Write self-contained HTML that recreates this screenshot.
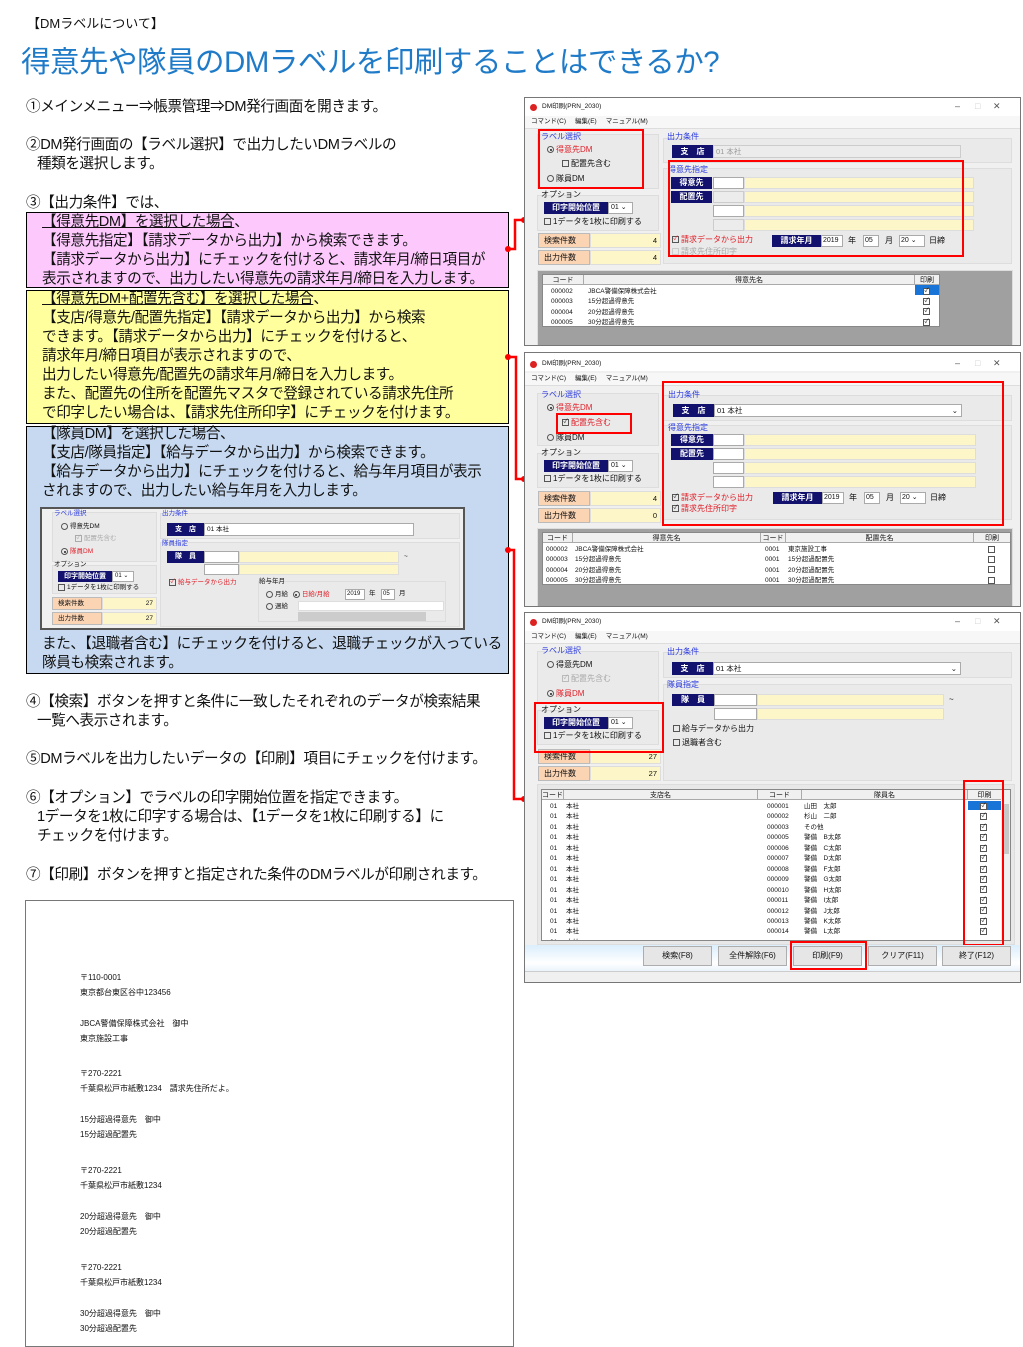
<!DOCTYPE html>
<html><head><meta charset="utf-8"><style>
*{margin:0;padding:0;box-sizing:border-box}
body{width:1023px;height:1347px;background:#fff;position:relative;overflow:hidden;font-family:"Liberation Sans","Noto Sans CJK JP",sans-serif;color:#111}
.a{position:absolute;white-space:nowrap}
.t{font-size:14.6px;line-height:19px;letter-spacing:-0.4px}
.win{position:absolute;background:#f0f0f0;border:1px solid #777;overflow:hidden;font-size:7.5px}
.win .a{line-height:1}
.tb{position:absolute;left:0;top:0;right:0;height:18px;background:#fff}
.mn{position:absolute;left:0;top:18px;right:0;height:13px;background:#f7f7f7;border-bottom:1px solid #ddd}
.grp{position:absolute;background:#eaeaea;border:1px solid #ddd}
.bl{color:#2a3adf}
.rd{color:#e0202a}
.gy{color:#aaa}
.nv{position:absolute;background:#12126e;color:#fff;text-align:center;font-weight:bold;font-size:8px}
.wi{position:absolute;background:#fff;border:1px solid #aaa}
.yi{position:absolute;background:#fcf6c8;border:1px solid #ddd}
.gi{position:absolute;background:#ececec;border:1px solid #ccc}
.pk{position:absolute;background:#fbd4b4;border:1px solid #bbb;padding-left:5px;font-size:8px}
.rb{position:absolute;border:2.5px solid #f00}
.tbl{position:absolute;background:#fff;border:1px solid #888;overflow:hidden}
.hd{position:absolute;background:#f0f0f0;border-bottom:1px solid #aaa;text-align:center;font-size:7px}
.cb{display:inline-block;width:7px;height:7px;border:1px solid #555;vertical-align:middle;margin-right:2px;font-size:6px;line-height:5px;text-align:center}
.rad{display:inline-block;width:7px;height:7px;border:1px solid #555;border-radius:50%;vertical-align:middle;margin-right:2px;position:relative}
.rad.on::after{content:"";position:absolute;left:1.5px;top:1.5px;width:2px;height:2px;background:#222;border-radius:50%}
.btn{position:absolute;background:#e6e6e6;border:1px solid #adadad;text-align:center;font-size:8px;line-height:18px}
</style></head><body>

<div class="a" style="left:27px;top:13px;font-size:13px">【DMラベルについて】</div>
<div class="a" style="left:21px;top:39px;font-size:29.5px;color:#1f7bc8;letter-spacing:-0.5px">得意先や隊員のDMラベルを印刷することはできるか?</div>

<div class="a t" style="left:26px;top:98px">①メインメニュー⇒帳票管理⇒DM発行画面を開きます。</div>
<div class="a t" style="left:26px;top:136px">②DM発行画面の【ラベル選択】で出力したいDMラベルの<br>&nbsp;&nbsp;&nbsp;種類を選択します。</div>
<div class="a t" style="left:26px;top:194px">③【出力条件】では、</div>

<div class="a" style="left:26px;top:212px;width:483px;height:76px;background:#fdc9fd;border:1px solid #000"></div>
<div class="a t" style="left:42px;top:213px"><u>【得意先DM】を選択した場合</u>、<br>【得意先指定】【請求データから出力】から検索できます。<br>【請求データから出力】にチェックを付けると、請求年月/締日項目が<br>表示されますので、出力したい得意先の請求年月/締日を入力します。</div>

<div class="a" style="left:26px;top:290px;width:483px;height:134px;background:#ffff9d;border:1px solid #000"></div>
<div class="a t" style="left:42px;top:290px"><u>【得意先DM+配置先含む】を選択した場合</u>、<br>【支店/得意先/配置先指定】【請求データから出力】から検索<br>できます。【請求データから出力】にチェックを付けると、<br>請求年月/締日項目が表示されますので、<br>出力したい得意先/配置先の請求年月/締日を入力します。<br>また、配置先の住所を配置先マスタで登録されている請求先住所<br>で印字したい場合は、【請求先住所印字】にチェックを付けます。</div>

<div class="a" style="left:26px;top:426px;width:483px;height:248px;background:#c6d9f0;border:1px solid #000"></div>
<div class="a t" style="left:42px;top:425px">【隊員DM】を選択した場合、<br>【支店/隊員指定】【給与データから出力】から検索できます。<br>【給与データから出力】にチェックを付けると、給与年月項目が表示<br>されますので、出力したい給与年月を入力します。</div>
<div class="a t" style="left:42px;top:635px">また、【退職者含む】にチェックを付けると、退職チェックが入っている<br>隊員も検索されます。</div>

<!-- inner screenshot -->
<div class="win" style="left:40px;top:507px;width:425px;height:123px;border:2px solid #555;font-size:6.5px">
 <div class="grp" style="left:10px;top:3px;width:105px;height:50px"></div>
 <div class="a bl" style="left:12px;top:2px">ラベル選択</div>
 <div class="a" style="left:19px;top:14px"><span class="rad"></span>得意先DM</div>
 <div class="a gy" style="left:33px;top:26px"><span class="cb" style="border-color:#aaa">✓</span>配置先含む</div>
 <div class="a rd" style="left:19px;top:39px"><span class="rad on"></span>隊員DM</div>
 <div class="grp" style="left:10px;top:56px;width:105px;height:29px"></div>
 <div class="a" style="left:12px;top:53px">オプション</div>
 <div class="nv" style="left:16px;top:62px;width:54px;height:11px;font-size:7px;line-height:11px">印字開始位置</div>
 <div class="wi" style="left:70px;top:62px;width:22px;height:11px;font-size:6px;padding-left:2px">01 ⌄</div>
 <div class="a" style="left:16px;top:75px"><span class="cb"></span>1データを1枚に印刷する</div>
 <div class="pk" style="left:10px;top:88px;width:50px;height:13px;font-size:6.5px;line-height:11px">検索件数</div>
 <div class="yi" style="left:60px;top:88px;width:55px;height:13px;text-align:right;padding-right:3px;font-size:6.5px;line-height:11px">27</div>
 <div class="pk" style="left:10px;top:103px;width:50px;height:13px;font-size:6.5px;line-height:11px">出力件数</div>
 <div class="yi" style="left:60px;top:103px;width:55px;height:13px;text-align:right;padding-right:3px;font-size:6.5px;line-height:11px">27</div>
 <div class="grp" style="left:118px;top:4px;width:300px;height:26px"></div>
 <div class="a bl" style="left:120px;top:2px">出力条件</div>
 <div class="nv" style="left:125px;top:14px;width:37px;height:13px;font-size:7px;line-height:13px">支　店</div>
 <div class="wi" style="left:162px;top:14px;width:210px;height:13px;font-size:6.5px;line-height:11px;padding-left:2px">01 本社</div>
 <div class="grp" style="left:118px;top:33px;width:300px;height:85px"></div>
 <div class="a bl" style="left:120px;top:32px">隊員指定</div>
 <div class="nv" style="left:125px;top:42px;width:37px;height:12px;font-size:7px;line-height:12px">隊　員</div>
 <div class="wi" style="left:162px;top:42px;width:35px;height:12px"></div>
 <div class="yi" style="left:197px;top:42px;width:160px;height:12px"></div>
 <div class="a" style="left:362px;top:45px">~</div>
 <div class="wi" style="left:162px;top:55px;width:35px;height:11px"></div>
 <div class="yi" style="left:197px;top:55px;width:160px;height:11px"></div>
 <div class="a rd" style="left:127px;top:70px"><span class="cb">✓</span>給与データから出力</div>
 <div class="a" style="left:216px;top:72px;width:188px;height:41px;border:1px solid #ddd"></div>
 <div class="a" style="left:217px;top:70px">給与年月</div>
 <div class="a" style="left:224px;top:82px"><span class="rad"></span>月給 <span class="rad on" style="margin-left:3px"></span><span class="rd">日給/月給</span></div>
 <div class="wi" style="left:303px;top:80px;width:20px;height:11px;font-size:6px;padding-left:1px;line-height:9px">2019</div>
 <div class="a" style="left:327px;top:82px">年</div>
 <div class="wi" style="left:339px;top:80px;width:14px;height:11px;font-size:6px;padding-left:1px;line-height:9px">05</div>
 <div class="a" style="left:357px;top:82px">月</div>
 <div class="a" style="left:224px;top:94px"><span class="rad"></span>週給</div>
 <div class="wi" style="left:256px;top:92px;width:146px;height:10px;border-color:#ddd"></div>
 <div class="gi" style="left:256px;top:103px;width:128px;height:9px;background:#ccc"></div>
</div>

<div class="a t" style="left:26px;top:693px">④【検索】ボタンを押すと条件に一致したそれぞれのデータが検索結果<br>&nbsp;&nbsp;&nbsp;一覧へ表示されます。</div>
<div class="a t" style="left:26px;top:750px">⑤DMラベルを出力したいデータの【印刷】項目にチェックを付けます。</div>
<div class="a t" style="left:26px;top:789px">⑥【オプション】でラベルの印字開始位置を指定できます。<br>&nbsp;&nbsp;&nbsp;1データを1枚に印字する場合は、【1データを1枚に印刷する】に<br>&nbsp;&nbsp;&nbsp;チェックを付けます。</div>
<div class="a t" style="left:26px;top:866px">⑦【印刷】ボタンを押すと指定された条件のDMラベルが印刷されます。</div>

<!-- label preview -->
<div class="a" style="left:25px;top:900px;width:489px;height:447px;border:1px solid #777;background:#fff"></div>
<div class="a" style="left:80px;top:970px;font-size:8px;line-height:15.3px">〒110-0001<br>東京都台東区谷中123456<br><br style="line-height:10px">JBCA警備保障株式会社　御中<br>東京施設工事</div>
<div class="a" style="left:80px;top:1066px;font-size:8px;line-height:15.3px">〒270-2221<br>千葉県松戸市紙敷1234　請求先住所だよ。<br><br style="line-height:10px">15分超過得意先　御中<br>15分超過配置先</div>
<div class="a" style="left:80px;top:1163px;font-size:8px;line-height:15.3px">〒270-2221<br>千葉県松戸市紙敷1234<br><br style="line-height:10px">20分超過得意先　御中<br>20分超過配置先</div>
<div class="a" style="left:80px;top:1260px;font-size:8px;line-height:15.3px">〒270-2221<br>千葉県松戸市紙敷1234<br><br style="line-height:10px">30分超過得意先　御中<br>30分超過配置先</div>

<!-- connectors -->
<svg class="a" style="left:0;top:0" width="1023" height="1347">
 <g stroke="#f00" stroke-width="2.5" fill="none">
  <polyline points="508,249 515,249 515,220 524,220"/>
  <polyline points="508,357 516,357 516,479 524,479"/>
  <polyline points="508,550 514,550 514,799 524,799"/>
 </g>
 <g fill="#f00">
  <circle cx="508" cy="249" r="3"/><circle cx="524" cy="220" r="3"/>
  <circle cx="508" cy="357" r="3"/><circle cx="524" cy="479" r="3"/>
  <circle cx="508" cy="550" r="3"/><circle cx="524" cy="799" r="3"/>
 </g>
</svg>

<!-- WINDOW 1 -->
<div class="win" style="left:524px;top:97px;width:497px;height:249px">
 <div class="tb"><div class="a" style="left:5px;top:6px;width:7px;height:7px;border-radius:50%;background:#d22"></div><div class="a" style="left:17px;top:6px;font-size:6.5px">DM印刷(PRN_2030)</div><div class="a" style="left:430px;top:4px;font-size:9px;color:#555">–&nbsp;&nbsp;&nbsp;&nbsp;&nbsp;&nbsp;<span style="color:#ccc">□</span>&nbsp;&nbsp;&nbsp;&nbsp;&nbsp;✕</div></div>
 <div class="mn"><div class="a" style="left:6px;top:3px;font-size:6.5px">コマンド(C)&nbsp;&nbsp;&nbsp;&nbsp;&nbsp;編集(E)&nbsp;&nbsp;&nbsp;&nbsp;&nbsp;マニュアル(M)</div></div>
 <div class="grp" style="left:12px;top:36px;width:122px;height:55px"></div>
 <div class="a bl" style="left:16px;top:35px;font-size:8px">ラベル選択</div>
 <div class="a rd" style="left:22px;top:48px;font-size:8px"><span class="rad on"></span>得意先DM</div>
 <div class="a" style="left:37px;top:62px;font-size:8px"><span class="cb"></span>配置先含む</div>
 <div class="a" style="left:22px;top:77px;font-size:8px"><span class="rad"></span>隊員DM</div>
 <div class="grp" style="left:12px;top:97px;width:122px;height:36px"></div>
 <div class="a" style="left:16px;top:93px;font-size:8px">オプション</div>
 <div class="nv" style="left:19px;top:104px;width:64px;height:12px;line-height:12px">印字開始位置</div>
 <div class="wi" style="left:83px;top:104px;width:25px;height:12px;font-size:7px;padding-left:2px;line-height:10px">01 ⌄</div>
 <div class="a" style="left:19px;top:120px;font-size:8px"><span class="cb"></span>1データを1枚に印刷する</div>
 <div class="pk" style="left:13px;top:135px;width:52px;height:15px;line-height:13px">検索件数</div>
 <div class="yi" style="left:65px;top:135px;width:71px;height:15px;text-align:right;padding-right:3px;line-height:13px">4</div>
 <div class="pk" style="left:13px;top:152px;width:52px;height:15px;line-height:13px">出力件数</div>
 <div class="yi" style="left:65px;top:152px;width:71px;height:15px;text-align:right;padding-right:3px;line-height:13px">4</div>
 <div class="grp" style="left:138px;top:40px;width:349px;height:25px"></div>
 <div class="a bl" style="left:142px;top:35px;font-size:8px">出力条件</div>
 <div class="nv" style="left:147px;top:47px;width:41px;height:13px;line-height:13px">支　店</div>
 <div class="gi" style="left:188px;top:47px;width:248px;height:13px;color:#999;padding-left:2px;line-height:11px">01 本社</div>
 <div class="grp" style="left:138px;top:70px;width:349px;height:96px"></div>
 <div class="a bl" style="left:143px;top:68px;font-size:8px">得意先指定</div>
 <div class="nv" style="left:146px;top:79px;width:41px;height:12px;line-height:12px">得意先</div>
 <div class="wi" style="left:188px;top:79px;width:31px;height:12px"></div><div class="yi" style="left:219px;top:79px;width:230px;height:12px"></div>
 <div class="nv" style="left:146px;top:93px;width:41px;height:12px;line-height:12px">配置先</div>
 <div class="gi" style="left:188px;top:93px;width:31px;height:12px"></div><div class="yi" style="left:219px;top:93px;width:230px;height:12px"></div>
 <div class="wi" style="left:188px;top:107px;width:31px;height:12px"></div><div class="yi" style="left:219px;top:107px;width:230px;height:12px"></div>
 <div class="gi" style="left:188px;top:121px;width:31px;height:12px"></div><div class="yi" style="left:219px;top:121px;width:230px;height:12px"></div>
 <div class="a rd" style="left:147px;top:138px;font-size:8px"><span class="cb">✓</span>請求データから出力</div>
 <div class="nv" style="left:247px;top:137px;width:49px;height:12px;line-height:12px">請求年月</div>
 <div class="wi" style="left:296px;top:137px;width:22px;height:12px;font-size:7px;line-height:10px;padding-left:1px">2019</div>
 <div class="a" style="left:323px;top:139px;font-size:8px">年</div>
 <div class="wi" style="left:338px;top:137px;width:16px;height:12px;font-size:7px;line-height:10px;padding-left:1px">05</div>
 <div class="a" style="left:360px;top:139px;font-size:8px">月</div>
 <div class="wi" style="left:374px;top:137px;width:26px;height:12px;font-size:7px;line-height:10px;padding-left:1px">20 ⌄</div>
 <div class="a" style="left:404px;top:139px;font-size:8px">日締</div>
 <div class="a gy" style="left:147px;top:150px;font-size:8px"><span class="cb" style="border-color:#ccc"></span>請求先住所印字</div>
 <div class="rb" style="left:13px;top:31px;width:106px;height:60px"></div>
 <div class="rb" style="left:143px;top:62px;width:296px;height:97px"></div>
 <div class="a" style="left:12px;top:172px;width:476px;height:77px;background:#a0a0a0;border:1px solid #ddd"></div>
 <div class="tbl" style="left:17px;top:176px;width:398px;height:53px;font-size:6.5px">
  <div class="hd" style="left:0;top:0;width:41px;height:10px;border-right:1px solid #aaa">コード</div>
  <div class="hd" style="left:41px;top:0;width:331px;height:10px;border-right:1px solid #aaa">得意先名</div>
  <div class="hd" style="left:372px;top:0;width:24px;height:10px">印刷</div>
  <div class="a" style="left:8px;top:12px;line-height:10.3px">000002<br>000003<br>000004<br>000005</div>
  <div class="a" style="left:45px;top:12px;line-height:10.3px">JBCA警備保障株式会社<br>15分超過得意先<br>20分超過得意先<br>30分超過得意先</div>
  <div class="a" style="left:372px;top:10px;width:24px;height:10px;background:#1874d6"></div>
  <div class="a" style="left:380px;top:12px;line-height:10.3px"><span class="cb" style="background:#fff">✓</span><br><span class="cb">✓</span><br><span class="cb">✓</span><br><span class="cb">✓</span></div>
 </div>
</div>

<!-- WINDOW 2 -->
<div class="win" style="left:524px;top:352px;width:497px;height:255px">
 <div class="tb"><div class="a" style="left:5px;top:8px;width:7px;height:7px;border-radius:50%;background:#d22"></div><div class="a" style="left:17px;top:8px;font-size:6.5px">DM印刷(PRN_2030)</div><div class="a" style="left:430px;top:6px;font-size:9px;color:#555">–&nbsp;&nbsp;&nbsp;&nbsp;&nbsp;&nbsp;<span style="color:#ccc">□</span>&nbsp;&nbsp;&nbsp;&nbsp;&nbsp;✕</div></div>
 <div class="mn" style="top:20px"><div class="a" style="left:6px;top:3px;font-size:6.5px">コマンド(C)&nbsp;&nbsp;&nbsp;&nbsp;&nbsp;編集(E)&nbsp;&nbsp;&nbsp;&nbsp;&nbsp;マニュアル(M)</div></div>
 <div class="grp" style="left:12px;top:40px;width:122px;height:53px"></div>
 <div class="a bl" style="left:16px;top:38px;font-size:8px">ラベル選択</div>
 <div class="a rd" style="left:22px;top:51px;font-size:8px"><span class="rad on"></span>得意先DM</div>
 <div class="a rd" style="left:37px;top:66px;font-size:8px"><span class="cb" style="color:#222">✓</span>配置先含む</div>
 <div class="a" style="left:22px;top:81px;font-size:8px"><span class="rad"></span>隊員DM</div>
 <div class="grp" style="left:12px;top:100px;width:122px;height:35px"></div>
 <div class="a" style="left:16px;top:96px;font-size:8px">オプション</div>
 <div class="nv" style="left:19px;top:107px;width:64px;height:12px;line-height:12px">印字開始位置</div>
 <div class="wi" style="left:83px;top:107px;width:25px;height:12px;font-size:7px;padding-left:2px;line-height:10px">01 ⌄</div>
 <div class="a" style="left:19px;top:122px;font-size:8px"><span class="cb"></span>1データを1枚に印刷する</div>
 <div class="pk" style="left:13px;top:138px;width:52px;height:15px;line-height:13px">検索件数</div>
 <div class="yi" style="left:65px;top:138px;width:71px;height:15px;text-align:right;padding-right:3px;line-height:13px">4</div>
 <div class="pk" style="left:13px;top:155px;width:52px;height:15px;line-height:13px">出力件数</div>
 <div class="yi" style="left:65px;top:155px;width:71px;height:15px;text-align:right;padding-right:3px;line-height:13px">0</div>
 <div class="grp" style="left:138px;top:42px;width:349px;height:26px"></div>
 <div class="a bl" style="left:143px;top:38px;font-size:8px">出力条件</div>
 <div class="nv" style="left:148px;top:51px;width:41px;height:13px;line-height:13px">支　店</div>
 <div class="wi" style="left:189px;top:51px;width:248px;height:13px;padding-left:2px;line-height:11px">01 本社<span style="float:right;padding-right:3px">⌄</span></div>
 <div class="grp" style="left:138px;top:72px;width:349px;height:95px"></div>
 <div class="a bl" style="left:143px;top:71px;font-size:8px">得意先指定</div>
 <div class="nv" style="left:146px;top:81px;width:42px;height:12px;line-height:12px">得意先</div>
 <div class="wi" style="left:188px;top:81px;width:31px;height:12px"></div><div class="yi" style="left:219px;top:81px;width:232px;height:12px"></div>
 <div class="nv" style="left:146px;top:95px;width:42px;height:12px;line-height:12px">配置先</div>
 <div class="wi" style="left:188px;top:95px;width:31px;height:12px"></div><div class="yi" style="left:219px;top:95px;width:232px;height:12px"></div>
 <div class="wi" style="left:188px;top:109px;width:31px;height:12px"></div><div class="yi" style="left:219px;top:109px;width:232px;height:12px"></div>
 <div class="wi" style="left:188px;top:123px;width:31px;height:12px"></div><div class="yi" style="left:219px;top:123px;width:232px;height:12px"></div>
 <div class="a rd" style="left:147px;top:141px;font-size:8px"><span class="cb" style="color:#222">✓</span>請求データから出力</div>
 <div class="nv" style="left:248px;top:139px;width:49px;height:12px;line-height:12px">請求年月</div>
 <div class="wi" style="left:297px;top:139px;width:22px;height:12px;font-size:7px;line-height:10px;padding-left:1px">2019</div>
 <div class="a" style="left:324px;top:141px;font-size:8px">年</div>
 <div class="wi" style="left:339px;top:139px;width:16px;height:12px;font-size:7px;line-height:10px;padding-left:1px">05</div>
 <div class="a" style="left:361px;top:141px;font-size:8px">月</div>
 <div class="wi" style="left:375px;top:139px;width:26px;height:12px;font-size:7px;line-height:10px;padding-left:1px">20 ⌄</div>
 <div class="a" style="left:405px;top:141px;font-size:8px">日締</div>
 <div class="a rd" style="left:147px;top:152px;font-size:8px"><span class="cb" style="color:#222">✓</span>請求先住所印字</div>
 <div class="rb" style="left:31px;top:60px;width:76px;height:21px"></div>
 <div class="rb" style="left:137px;top:28px;width:342px;height:145px"></div>
 <div class="a" style="left:12px;top:175px;width:476px;height:80px;background:#a0a0a0;border:1px solid #ddd"></div>
 <div class="tbl" style="left:17px;top:179px;width:469px;height:53px;font-size:6.5px">
  <div class="hd" style="left:0;top:0;width:30px;height:10px;border-right:1px solid #aaa">コード</div>
  <div class="hd" style="left:30px;top:0;width:188px;height:10px;border-right:1px solid #aaa">得意先名</div>
  <div class="hd" style="left:218px;top:0;width:25px;height:10px;border-right:1px solid #aaa">コード</div>
  <div class="hd" style="left:243px;top:0;width:188px;height:10px;border-right:1px solid #aaa">配置先名</div>
  <div class="hd" style="left:431px;top:0;width:36px;height:10px">印刷</div>
  <div class="a" style="left:3px;top:12px;line-height:10.3px">000002<br>000003<br>000004<br>000005</div>
  <div class="a" style="left:32px;top:12px;line-height:10.3px">JBCA警備保障株式会社<br>15分超過得意先<br>20分超過得意先<br>30分超過得意先</div>
  <div class="a" style="left:222px;top:12px;line-height:10.3px">0001<br>0001<br>0001<br>0001</div>
  <div class="a" style="left:245px;top:12px;line-height:10.3px">東京施設工事<br>15分超過配置先<br>20分超過配置先<br>30分超過配置先</div>
  <div class="a" style="left:445px;top:12px;line-height:10.3px"><span class="cb"></span><br><span class="cb"></span><br><span class="cb"></span><br><span class="cb"></span></div>
 </div>
</div>

<!-- WINDOW 3 -->
<div class="win" style="left:524px;top:612px;width:497px;height:371px">
 <div class="tb"><div class="a" style="left:5px;top:6px;width:7px;height:7px;border-radius:50%;background:#d22"></div><div class="a" style="left:17px;top:6px;font-size:6.5px">DM印刷(PRN_2030)</div><div class="a" style="left:430px;top:4px;font-size:9px;color:#555">–&nbsp;&nbsp;&nbsp;&nbsp;&nbsp;&nbsp;<span style="color:#ccc">□</span>&nbsp;&nbsp;&nbsp;&nbsp;&nbsp;✕</div></div>
 <div class="mn"><div class="a" style="left:6px;top:3px;font-size:6.5px">コマンド(C)&nbsp;&nbsp;&nbsp;&nbsp;&nbsp;編集(E)&nbsp;&nbsp;&nbsp;&nbsp;&nbsp;マニュアル(M)</div></div>
 <div class="grp" style="left:12px;top:38px;width:122px;height:52px"></div>
 <div class="a bl" style="left:16px;top:34px;font-size:8px">ラベル選択</div>
 <div class="a" style="left:22px;top:48px;font-size:8px"><span class="rad"></span>得意先DM</div>
 <div class="a gy" style="left:37px;top:62px;font-size:8px"><span class="cb" style="border-color:#bbb">✓</span>配置先含む</div>
 <div class="a rd" style="left:22px;top:77px;font-size:8px"><span class="rad on"></span>隊員DM</div>
 <div class="grp" style="left:12px;top:97px;width:122px;height:35px"></div>
 <div class="a" style="left:16px;top:93px;font-size:8px">オプション</div>
 <div class="nv" style="left:19px;top:104px;width:64px;height:12px;line-height:12px">印字開始位置</div>
 <div class="wi" style="left:83px;top:104px;width:25px;height:12px;font-size:7px;padding-left:2px;line-height:10px">01 ⌄</div>
 <div class="a" style="left:19px;top:119px;font-size:8px"><span class="cb"></span>1データを1枚に印刷する</div>
 <div class="pk" style="left:13px;top:136px;width:52px;height:15px;line-height:13px">検索件数</div>
 <div class="yi" style="left:65px;top:136px;width:71px;height:15px;text-align:right;padding-right:3px;line-height:13px">27</div>
 <div class="pk" style="left:13px;top:153px;width:52px;height:15px;line-height:13px">出力件数</div>
 <div class="yi" style="left:65px;top:153px;width:71px;height:15px;text-align:right;padding-right:3px;line-height:13px">27</div>
 <div class="grp" style="left:138px;top:39px;width:349px;height:26px"></div>
 <div class="a bl" style="left:142px;top:35px;font-size:8px">出力条件</div>
 <div class="nv" style="left:147px;top:49px;width:41px;height:13px;line-height:13px">支　店</div>
 <div class="wi" style="left:188px;top:49px;width:248px;height:13px;padding-left:2px;line-height:11px">01 本社<span style="float:right;padding-right:3px">⌄</span></div>
 <div class="grp" style="left:138px;top:71px;width:349px;height:97px"></div>
 <div class="a bl" style="left:142px;top:68px;font-size:8px">隊員指定</div>
 <div class="nv" style="left:147px;top:81px;width:42px;height:12px;line-height:12px">隊　員</div>
 <div class="wi" style="left:189px;top:81px;width:43px;height:12px"></div><div class="yi" style="left:232px;top:81px;width:187px;height:12px"></div>
 <div class="a" style="left:424px;top:83px;font-size:8px">~</div>
 <div class="wi" style="left:189px;top:95px;width:43px;height:12px"></div><div class="yi" style="left:232px;top:95px;width:187px;height:12px"></div>
 <div class="a" style="left:148px;top:112px;font-size:8px"><span class="cb"></span>給与データから出力</div>
 <div class="a" style="left:148px;top:126px;font-size:8px"><span class="cb"></span>退職者含む</div>
 <div class="rb" style="left:9px;top:89px;width:130px;height:51px"></div>
 <div class="a" style="left:12px;top:171px;width:478px;height:161px;background:#e8e8e8;border:1px solid #ddd"></div>
 <div class="tbl" style="left:16px;top:176px;width:470px;height:152px;font-size:6.5px">
  <div class="hd" style="left:0;top:0;width:22px;height:10px;border-right:1px solid #aaa">コード</div>
  <div class="hd" style="left:22px;top:0;width:194px;height:10px;border-right:1px solid #aaa">支店名</div>
  <div class="hd" style="left:216px;top:0;width:44px;height:10px;border-right:1px solid #aaa">コード</div>
  <div class="hd" style="left:260px;top:0;width:166px;height:10px;border-right:1px solid #aaa">隊員名</div>
  <div class="hd" style="left:426px;top:0;width:33px;height:10px">印刷</div>
  <div class="a" style="left:459px;top:0;width:10px;height:151px;background:#f0f0f0"></div>
  <div class="a" style="left:461px;top:14px;width:6px;height:50px;background:#c8c8c8"></div>
  <div class="a" style="left:426px;top:11px;width:33px;height:9px;background:#1874d6"></div>
  <div class="a" style="left:8px;top:12px;line-height:10.45px">01<br>01<br>01<br>01<br>01<br>01<br>01<br>01<br>01<br>01<br>01<br>01<br>01<br>01</div>
  <div class="a" style="left:24px;top:12px;line-height:10.45px">本社<br>本社<br>本社<br>本社<br>本社<br>本社<br>本社<br>本社<br>本社<br>本社<br>本社<br>本社<br>本社<br>本社</div>
  <div class="a" style="left:225px;top:12px;line-height:10.45px">000001<br>000002<br>000003<br>000005<br>000006<br>000007<br>000008<br>000009<br>000010<br>000011<br>000012<br>000013<br>000014</div>
  <div class="a" style="left:262px;top:12px;line-height:10.45px">山田　太郎<br>杉山　二郎<br>その他<br>警備　B太郎<br>警備　C太郎<br>警備　D太郎<br>警備　F太郎<br>警備　G太郎<br>警備　H太郎<br>警備　I太郎<br>警備　J太郎<br>警備　K太郎<br>警備　L太郎</div>
  <div class="a" style="left:438px;top:12px;line-height:10.45px"><span class="cb" style="background:#fff">✓</span><br><span class="cb">✓</span><br><span class="cb">✓</span><br><span class="cb">✓</span><br><span class="cb">✓</span><br><span class="cb">✓</span><br><span class="cb">✓</span><br><span class="cb">✓</span><br><span class="cb">✓</span><br><span class="cb">✓</span><br><span class="cb">✓</span><br><span class="cb">✓</span><br><span class="cb">✓</span></div>
 </div>
 <div class="rb" style="left:438px;top:167px;width:41px;height:166px"></div>
 <div class="a" style="left:0;top:332px;width:497px;height:26px;background:linear-gradient(#dbeefc,#fff 70%,#eaf4fc)"></div>
 <div class="btn" style="left:118px;top:333px;width:69px;height:20px">検索(F8)</div>
 <div class="btn" style="left:193px;top:333px;width:69px;height:20px">全件解除(F6)</div>
 <div class="btn" style="left:268px;top:333px;width:69px;height:20px">印刷(F9)</div>
 <div class="btn" style="left:343px;top:333px;width:69px;height:20px">クリア(F11)</div>
 <div class="btn" style="left:417px;top:333px;width:69px;height:20px">終了(F12)</div>
 <div class="rb" style="left:265px;top:328px;width:77px;height:29px"></div>
 <div class="a" style="left:0;top:358px;width:497px;height:13px;background:#f0f0f0;border-top:1px solid #ccc"></div>
</div>

</body></html>
